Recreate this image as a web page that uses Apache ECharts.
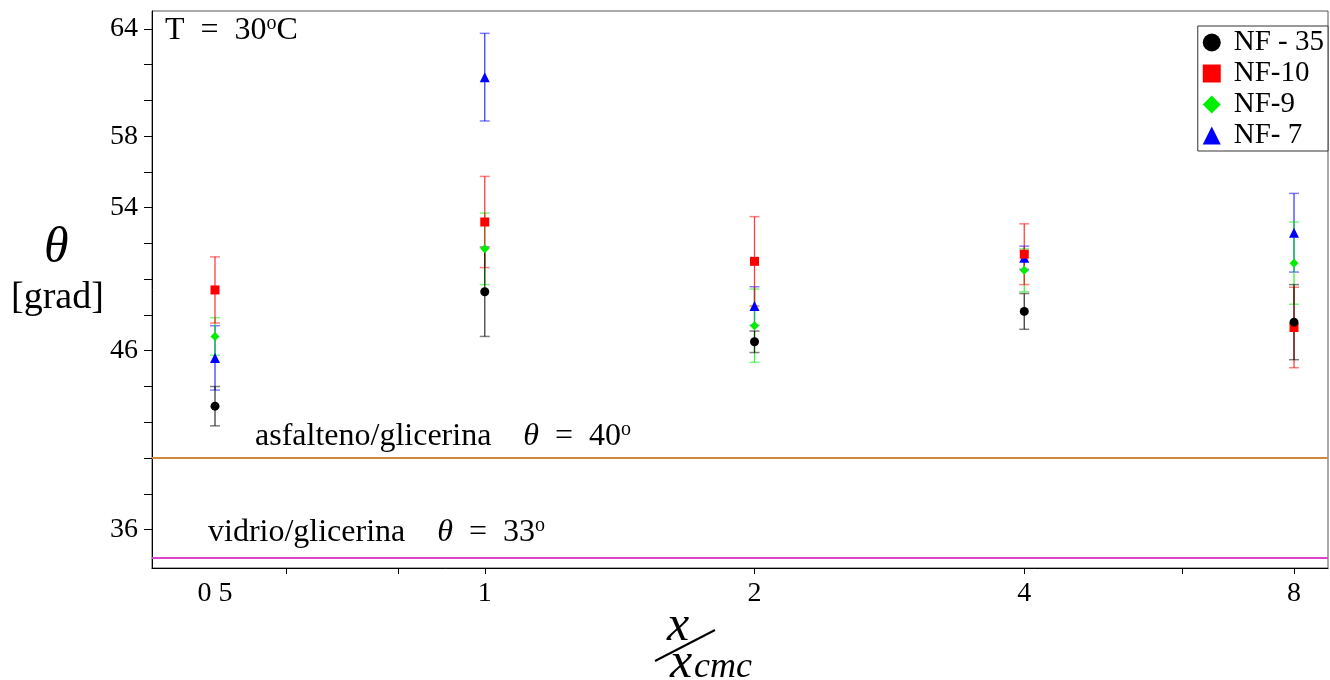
<!DOCTYPE html>
<html>
<head>
<meta charset="utf-8">
<script src="https://cdn.jsdelivr.net/npm/echarts@6/dist/echarts.min.js"></script>
<style>
  html, body { margin: 0; padding: 0; background: #fff; }
  #chart { width: 1330px; height: 680px; }
</style>
</head>
<body>
<div id="chart"></div>
<script>
// x / x_cmc values (plotted on a log2 scale)
var xValues = [0.5, 1, 2, 4, 8];
var xLabels = ['0 5', '1', '2', '4', '8'];
var xTickValues = [0.6, 0.8, 1, 2, 4, 6, 8];

// contact angle theta [grad] and error half-widths
var nf35 = [42.9, 49.3, 46.5, 48.2, 47.6];
var nf35Err = [1.1, 2.5, 0.6, 1.0, 2.1];
var nf10 = [49.4, 53.2, 51.0, 51.4, 47.3];
var nf10Err = [1.85, 2.55, 2.5, 1.7, 2.25];
var nf9 = [46.8, 51.7, 47.4, 50.5, 50.9];
var nf9Err = [1.05, 2.0, 2.05, 1.2, 2.3];
var nf7 = [45.6, 61.3, 48.5, 51.2, 52.6];
var nf7Err = [1.8, 2.45, 1.08, 0.65, 2.2];

var seriesNames = ['NF - 35', 'NF-10', 'NF-9', 'NF- 7'];

// y axis ticks / labels
var yTickValues = [36, 38, 40, 42, 44, 46, 48, 50, 52, 54, 56, 58, 60, 62, 64];
var yLabelValues = [36, 46, 54, 58, 64];

// horizontal reference lines
var lineAsfalteno = 40;
var lineVidrio = 34.4;

var serif = '"Liberation Serif", "DejaVu Serif", serif';

function log2(v){ return Math.log(v) / Math.LN2; }

var groups = [
  { name: seriesNames[0], vals: nf35, err: nf35Err, color: '#000000', symbol: 'circle', size: 9 },
  { name: seriesNames[1], vals: nf10, err: nf10Err, color: '#ff0000', symbol: 'rect', size: 9 },
  { name: seriesNames[2], vals: nf9, err: nf9Err, color: '#00ee00', symbol: 'diamond', size: 9 },
  { name: seriesNames[3], vals: nf7, err: nf7Err, color: '#0000ff', symbol: 'triangle', size: 10 }
];

var series = [];

// error bars first (under the markers)
[3, 2, 1, 0].forEach(function(gi){
  var g = groups[gi];
  var data = g.vals.map(function(v, i){ return [log2(xValues[i]), v - g.err[i], v + g.err[i]]; });
  series.push({
    type: 'custom',
    name: g.name + ' err',
    silent: true,
    data: data,
    z: 2,
    renderItem: function(params, api){
      var x = api.value(0);
      var lo = api.coord([x, api.value(1)]);
      var hi = api.coord([x, api.value(2)]);
      var hw = 5;
      var cap = { stroke: g.color, lineWidth: 1.5, opacity: 0.5 };
      return {
        type: 'group',
        children: [
          { type: 'line', shape: { x1: lo[0], y1: lo[1], x2: hi[0], y2: hi[1] }, style: { stroke: g.color, lineWidth: 1.3, opacity: 0.75 } },
          { type: 'line', shape: { x1: lo[0] - hw, y1: lo[1], x2: lo[0] + hw, y2: lo[1] }, style: cap },
          { type: 'line', shape: { x1: hi[0] - hw, y1: hi[1], x2: hi[0] + hw, y2: hi[1] }, style: cap }
        ]
      };
    }
  });
});

[3, 2, 1, 0].forEach(function(gi){
  var g = groups[gi];
  series.push({
    type: 'scatter',
    name: g.name,
    symbol: g.symbol,
    symbolSize: g.size,
    itemStyle: { color: g.color, opacity: 1 },
    z: 3,
    data: g.vals.map(function(v, i){ return [log2(xValues[i]), v]; })
  });
});

// reference lines
series.push({
  type: 'line',
  name: 'ref',
  data: [],
  silent: true,
  markLine: {
    silent: true,
    symbol: 'none',
    label: { show: false },
    data: [
      { yAxis: lineAsfalteno, lineStyle: { color: '#d0873e', width: 2, type: 'solid' } },
      { yAxis: lineVidrio, lineStyle: { color: '#dd44cc', width: 2, type: 'solid' } }
    ]
  }
});

var supStyle = { fontSize: 20, verticalAlign: 'top', padding: [0, 0, 14, 0], fontFamily: serif };

var chart = echarts.init(document.getElementById('chart'));

chart.setOption({
  animation: false,
  backgroundColor: '#fff',
  grid: {
    left: 152, top: 11, right: 2, bottom: 112,
    show: true, borderColor: '#555', borderWidth: 1
  },
  legend: {
    orient: 'vertical',
    right: 2,
    top: 26,
    data: [
      { name: seriesNames[0], icon: 'circle' },
      { name: seriesNames[1], icon: 'rect' },
      { name: seriesNames[2], icon: 'diamond' },
      { name: seriesNames[3], icon: 'triangle' }
    ],
    backgroundColor: '#fff',
    borderColor: '#333',
    borderWidth: 1,
    padding: [2, 4, 1, 5],
    itemGap: 2,
    itemWidth: 18,
    itemHeight: 18,
    textStyle: { fontFamily: serif, fontSize: 29, lineHeight: 29, color: '#000', padding: [0, 0, 0, 8] }
  },
  xAxis: {
    type: 'value',
    min: log2(xValues[0]) - 0.2336,
    max: log2(xValues[4]) + 0.126,
    axisLine: { onZero: false, lineStyle: { color: '#000', width: 1 } },
    axisTick: {
      length: 6,
      lineStyle: { color: '#000' },
      customValues: xTickValues.map(log2)
    },
    splitLine: { show: false },
    axisLabel: {
      customValues: xValues.map(log2),
      margin: 12,
      fontFamily: serif,
      fontSize: 28,
      color: '#000',
      formatter: function(v){
        for (var i = 0; i < xValues.length; i++) {
          if (Math.abs(log2(xValues[i]) - v) < 1e-6) return xLabels[i];
        }
        return '';
      }
    }
  },
  yAxis: {
    type: 'value',
    min: 33.85,
    max: 65,
    axisLine: { show: true, onZero: false, lineStyle: { color: '#000', width: 1 } },
    axisTick: {
      length: 8,
      lineStyle: { color: '#000' },
      customValues: yTickValues
    },
    splitLine: { show: false },
    axisLabel: {
      customValues: yLabelValues,
      margin: 14,
      fontFamily: serif,
      fontSize: 28,
      color: '#000'
    }
  },
  graphic: [
    {
      type: 'text', left: 165, top: 14,
      style: {
        text: 'T  =  30{sup|o}C',
        font: '32px ' + serif,
        fill: '#000',
        rich: { sup: supStyle }
      }
    },
    {
      type: 'text', left: 44, top: 224,
      style: { text: 'θ', font: 'italic 50px ' + serif, fill: '#000' }
    },
    {
      type: 'text', left: 11, top: 279,
      style: { text: '[grad]', font: '38px ' + serif, fill: '#000' }
    },
    {
      type: 'text', left: 255, top: 420,
      style: {
        text: 'asfalteno/glicerina    {i|θ}  =  40{sup|o}',
        font: '32px ' + serif,
        fill: '#000',
        rich: {
          i: { fontStyle: 'italic', fontSize: 32, fontFamily: serif },
          sup: supStyle
        }
      }
    },
    {
      type: 'text', left: 208, top: 516,
      style: {
        text: 'vidrio/glicerina    {i|θ}  =  33{sup|o}',
        font: '32px ' + serif,
        fill: '#000',
        rich: {
          i: { fontStyle: 'italic', fontSize: 32, fontFamily: serif },
          sup: supStyle
        }
      }
    },
    // x-axis title: x / x_cmc
    {
      type: 'text', left: 667, top: 602,
      style: { text: 'x', font: 'italic 50px ' + serif, fill: '#000' }
    },
    {
      type: 'line',
      shape: { x1: 655, y1: 661, x2: 715, y2: 630 },
      style: { stroke: '#000', lineWidth: 2 }
    },
    {
      type: 'text', left: 670, top: 639,
      style: { text: 'x', font: 'italic 50px ' + serif, fill: '#000' }
    },
    {
      type: 'text', left: 694, top: 650,
      style: { text: 'cmc', font: 'italic 36px ' + serif, fill: '#000' }
    }
  ],
  series: series
});
</script>
</body>
</html>
